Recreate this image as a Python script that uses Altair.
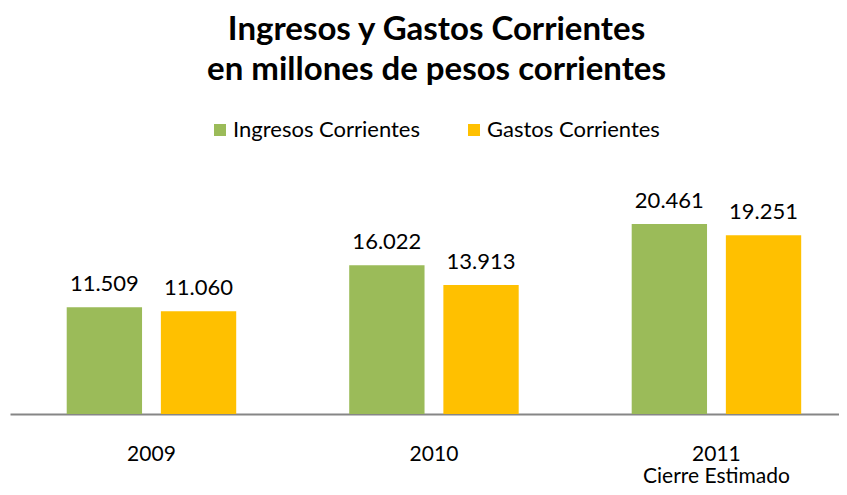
import altair as alt
import pandas as pd

years = ["2009", "2010", "2011"]
series = ["Ingresos Corrientes", "Gastos Corrientes"]
ingresos = [11509, 16022, 20461]
gastos = [11060, 13913, 19251]
colors = ["#9BBB59", "#FFC000"]

rows = []
for i, y in enumerate(years):
    for s, vals in zip(series, [ingresos, gastos]):
        v = vals[i]
        rows.append({"year": y, "serie": s, "value": v,
                     "label": f"{v:,}".replace(",", ".")})
df = pd.DataFrame(rows)

FONT = "Lato"

base = alt.Chart(df).encode(
    x=alt.X("year:N", sort=years, title=None,
            scale=alt.Scale(paddingInner=0.4, paddingOuter=0.1673, align=0.6),
            axis=alt.Axis(labelAngle=0, ticks=False, domainColor="#868686", domainWidth=2,
                          labelFontSize=21, labelFont=FONT, labelColor="#000000",
                          labelPadding=29, labelLineHeight=22,
                          labelExpr="datum.value == '2011' ? ['2011', 'Cierre Estimado'] : datum.value")),
    xOffset=alt.XOffset("serie:N", sort=series,
                        scale=alt.Scale(paddingInner=0.2, paddingOuter=0)),
    y=alt.Y("value:Q", scale=alt.Scale(domain=[0, 25000]), axis=None),
)

bars = base.mark_bar().encode(
    color=alt.Color("serie:N", sort=series,
                    scale=alt.Scale(domain=series, range=colors),
                    legend=alt.Legend(orient="none", legendX=199, legendY=-63,
                                      direction="horizontal", title=None, padding=0,
                                      symbolType="square", symbolSize=144,
                                      symbolStrokeWidth=0, labelFontSize=22,
                                      labelFont=FONT, labelColor="#000000",
                                      labelLimit=400, columnPadding=43, labelOffset=2))
)

text = base.mark_text(dy=-16, baseline="alphabetic", fontSize=22, font=FONT,
                      color="#000000").encode(text="label:N")

chart = (bars + text).properties(
    width=829, height=232,
    autosize=alt.AutoSizeParams(type="none"),
    padding={"left": 2, "top": 174, "right": 0, "bottom": 73},
    title=alt.TitleParams(["Ingresos y Gastos Corrientes", "en millones de pesos corrientes"],
                          fontSize=33, font=FONT, fontWeight="bold", anchor="middle",
                          lineHeight=40, offset=32, dx=12, color="#000000"),
).configure_view(stroke=None)

chart.save("out.html", embed_options={"renderer": "svg", "actions": False})
